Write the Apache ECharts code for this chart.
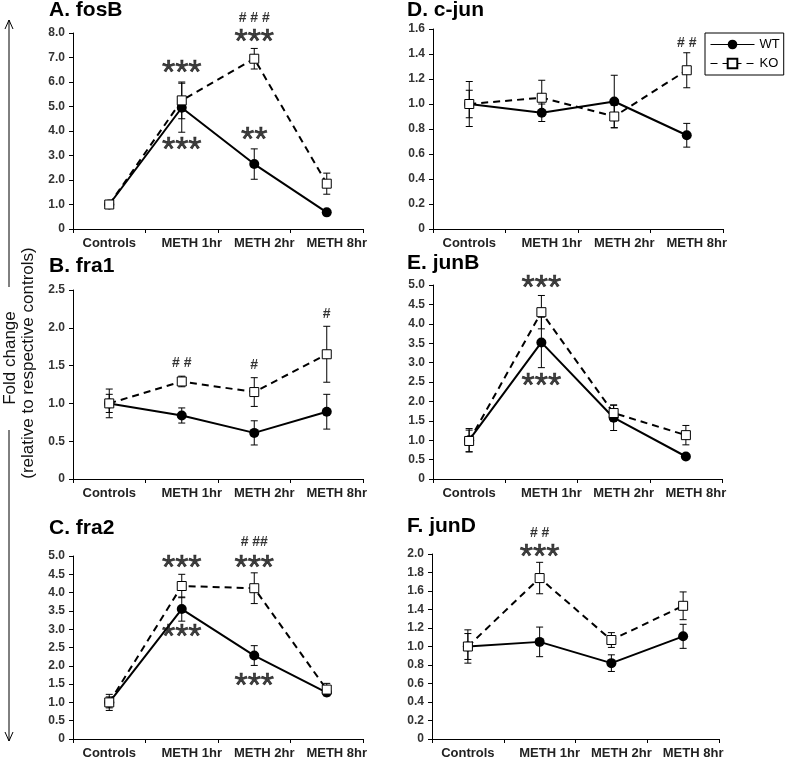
<!DOCTYPE html>
<html>
<head>
<meta charset="utf-8">
<script src="https://cdn.jsdelivr.net/npm/echarts@6/dist/echarts.min.js"></script>
<style>html,body{margin:0;padding:0;background:#fff}#c{width:787px;height:761px}</style>
</head>
<body>
<div id="c"></div>
<script>
const categories = ['Controls', 'METH 1hr', 'METH 2hr', 'METH 8hr'];

// A. fosB
const wtA = [1.0, 4.95, 2.65, 0.68];
const wtAerr = [0.08, 1.0, 0.62, 0.05];
const koA = [1.0, 5.25, 6.95, 1.85];
const koAerr = [0.1, 0.75, 0.42, 0.43];
const notesA = [[1, 6.63, '***'], [1, 3.47, '***'], [2, 3.9, '**'], [2, 7.9, '***'], [2, 8.6, '# # #']];

// B. fra1
const wtB = [1.0, 0.84, 0.61, 0.89];
const wtBerr = [0.19, 0.1, 0.16, 0.23];
const koB = [1.0, 1.29, 1.15, 1.65];
const koBerr = [0.12, 0.07, 0.19, 0.37];
const notesB = [[1, 1.53, '# #'], [2, 1.51, '#'], [3, 2.18, '#']];

// C. fra2
const wtC = [1.0, 3.55, 2.28, 1.27];
const wtCerr = [0.22, 0.33, 0.27, 0.05];
const koC = [1.0, 4.18, 4.12, 1.35];
const koCerr = [0.15, 0.32, 0.42, 0.17];
const notesC = [[1, 4.85, '***'], [1, 2.96, '***'], [2, 4.85, '***'], [2, 5.39, '# ##'], [2, 1.62, '***']];

// D. c-jun
const wtD = [1.0, 0.93, 1.02, 0.75];
const wtDerr = [0.11, 0.07, 0.21, 0.095];
const koD = [1.0, 1.05, 0.90, 1.27];
const koDerr = [0.18, 0.14, 0.09, 0.14];
const notesD = [[3, 1.49, '# #']];

// E. junB
const wtE = [1.0, 3.52, 1.58, 0.58];
const wtEerr = [0.3, 0.65, 0.33, 0.05];
const koE = [0.98, 4.3, 1.7, 1.13];
const koEerr = [0.28, 0.43, 0.2, 0.25];
const notesE = [[1, 5.09, '***'], [1, 2.56, '***']];

// F. junD
const wtF = [1.0, 1.05, 0.82, 1.11];
const wtFerr = [0.14, 0.16, 0.09, 0.13];
const koF = [1.0, 1.74, 1.07, 1.44];
const koFerr = [0.18, 0.17, 0.08, 0.15];
const notesF = [[1, 2.04, '***'], [1, 2.23, '# #']];

const FONT = '"Liberation Sans", Arial, sans-serif';

const panels = [
  {title: 'A. fosB', wt: wtA, wtErr: wtAerr, ko: koA, koErr: koAerr, notes: notesA, max: 8, interval: 1,
   grid: {left: 73, top: 33, width: 290, height: 196}, tl: 49, tt: 0},
  {title: 'B. fra1', wt: wtB, wtErr: wtBerr, ko: koB, koErr: koBerr, notes: notesB, max: 2.5, interval: 0.5,
   grid: {left: 73, top: 290, width: 290, height: 189}, tl: 49, tt: 256},
  {title: 'C. fra2', wt: wtC, wtErr: wtCerr, ko: koC, koErr: koCerr, notes: notesC, max: 5, interval: 0.5,
   grid: {left: 73, top: 556, width: 290, height: 183}, tl: 49, tt: 518},
  {title: 'D. c-jun', wt: wtD, wtErr: wtDerr, ko: koD, koErr: koDerr, notes: notesD, max: 1.6, interval: 0.2,
   grid: {left: 433, top: 29, width: 290, height: 200}, tl: 407, tt: 0},
  {title: 'E. junB', wt: wtE, wtErr: wtEerr, ko: koE, koErr: koEerr, notes: notesE, max: 5, interval: 0.5,
   grid: {left: 433, top: 285, width: 289, height: 194}, tl: 407, tt: 253},
  {title: 'F. junD', wt: wtF, wtErr: wtFerr, ko: koF, koErr: koFerr, notes: notesF, max: 2, interval: 0.2,
   grid: {left: 432, top: 554, width: 287, height: 185}, tl: 407, tt: 516}
];

function errRender(params, api) {
  const lo = api.coord([api.value(0), api.value(1)]);
  const hi = api.coord([api.value(0), api.value(2)]);
  const w = 3.5;
  const st = {stroke: '#000', lineWidth: 1};
  return {type: 'group', children: [
    {type: 'line', shape: {x1: lo[0], y1: lo[1], x2: hi[0], y2: hi[1]}, style: st},
    {type: 'line', shape: {x1: lo[0] - w, y1: lo[1], x2: lo[0] + w, y2: lo[1]}, style: st},
    {type: 'line', shape: {x1: hi[0] - w, y1: hi[1], x2: hi[0] + w, y2: hi[1]}, style: st}
  ]};
}

const grids = [], xAxes = [], yAxes = [], series = [], titles = [];
panels.forEach((p, i) => {
  grids.push(p.grid);
  titles.push({text: p.title, left: p.tl, top: p.tt, padding: 0,
    textStyle: {fontSize: 21, fontWeight: 'bold', color: '#000', fontFamily: FONT}});
  xAxes.push({type: 'category', gridIndex: i, data: categories, boundaryGap: true,
    axisLine: {show: true, lineStyle: {color: '#000', width: 1}},
    axisTick: {show: true, length: 4, alignWithLabel: false, lineStyle: {color: '#000'}},
    axisLabel: {interval: 0, margin: 8, color: '#222', fontFamily: FONT, fontSize: 13, fontWeight: 'bold',
      formatter: (v, idx) => idx === 0 ? '{a|' + v + '}' : '{b|' + v + '}',
      rich: {a: {fontSize: 13, fontWeight: 'bold', color: '#222', fontFamily: FONT},
             b: {fontSize: 13, fontWeight: 'bold', color: '#222', fontFamily: FONT, padding: [0, 0, 0, 20]}}},
    splitLine: {show: false}});
  yAxes.push({type: 'value', gridIndex: i, min: 0, max: p.max, interval: p.interval,
    axisLine: {show: true, lineStyle: {color: '#000', width: 1}},
    axisTick: {show: true, length: 4, lineStyle: {color: '#000'}},
    axisLabel: {margin: 8, color: '#333', fontFamily: FONT, fontSize: 12, fontWeight: 'bold',
      formatter: v => v === 0 ? '0' : v.toFixed(1)},
    splitLine: {show: false}});
  series.push({name: 'errWT' + i, type: 'custom', xAxisIndex: i, yAxisIndex: i, z: 2, silent: true,
    renderItem: errRender, data: p.wt.map((v, k) => [k, v - p.wtErr[k], v + p.wtErr[k]])});
  series.push({name: 'errKO' + i, type: 'custom', xAxisIndex: i, yAxisIndex: i, z: 2, silent: true,
    renderItem: errRender, data: p.ko.map((v, k) => [k, v - p.koErr[k], v + p.koErr[k]])});
  series.push({name: 'WT', type: 'line', xAxisIndex: i, yAxisIndex: i, z: 3, data: p.wt,
    symbol: 'circle', symbolSize: 10, showAllSymbol: true,
    itemStyle: {color: '#000'}, lineStyle: {color: '#000', width: 2}, animation: false});
  series.push({name: 'KO', type: 'line', xAxisIndex: i, yAxisIndex: i, z: 4, data: p.ko,
    symbol: 'rect', symbolSize: 9, showAllSymbol: true,
    itemStyle: {color: '#fff', borderColor: '#000', borderWidth: 1},
    lineStyle: {color: '#000', width: 2, type: [7, 5]}, animation: false});
  series.push({name: 'notes' + i, type: 'scatter', xAxisIndex: i, yAxisIndex: i, z: 5, silent: true,
    clip: false, symbolSize: 1, itemStyle: {color: 'transparent'},
    data: p.notes.map(n => ({value: [n[0], n[1]], name: n[2]})),
    label: {show: true, position: 'inside', color: '#000',
      formatter: prm => prm.name.indexOf('*') >= 0 ? '{s|' + prm.name + '}' : '{h|' + prm.name + '}',
      rich: {s: {fontSize: 34, fontFamily: FONT, color: '#111', fontWeight: 'normal',
                 textBorderColor: '#111', textBorderWidth: 0.7, padding: [14, 0, 0, 0]},
             h: {fontSize: 14, fontFamily: FONT, fontWeight: 'bold', color: '#000'}}}});
});

const chart = echarts.init(document.getElementById('c'), null, {renderer: 'canvas'});
chart.setOption({
  animation: false,
  backgroundColor: '#fff',
  title: titles,
  grid: grids,
  xAxis: xAxes,
  yAxis: yAxes,
  series: series,
  legend: {data: ['WT', 'KO'], orient: 'vertical', left: 705, top: 33, selectedMode: false,
    itemWidth: 44, itemHeight: 12, itemGap: 6, padding: [5, 4, 5, 5],
    borderColor: '#000', borderWidth: 1, backgroundColor: '#fff',
    lineStyle: {width: 1},
    textStyle: {fontSize: 13, color: '#000', fontFamily: FONT}},
  graphic: [
    {type: 'line', shape: {x1: 9, y1: 20, x2: 9, y2: 287}, style: {stroke: '#000', lineWidth: 1}},
    {type: 'polyline', shape: {points: [[5, 29], [9, 20], [13, 29]]}, style: {stroke: '#000', lineWidth: 1, fill: null}},
    {type: 'line', shape: {x1: 9, y1: 430, x2: 9, y2: 741}, style: {stroke: '#000', lineWidth: 1}},
    {type: 'polyline', shape: {points: [[5, 732], [9, 741], [13, 732]]}, style: {stroke: '#000', lineWidth: 1, fill: null}},
    {type: 'text', x: 10, y: 358, rotation: Math.PI / 2,
      style: {text: 'Fold change', fontSize: 17, fontFamily: FONT, fill: '#111', align: 'center', verticalAlign: 'middle'}},
    {type: 'text', x: 28, y: 363, rotation: Math.PI / 2,
      style: {text: '(relative to respective controls)', fontSize: 17, fontFamily: FONT, fill: '#111', align: 'center', verticalAlign: 'middle'}}
  ]
});
</script>
</body>
</html>
